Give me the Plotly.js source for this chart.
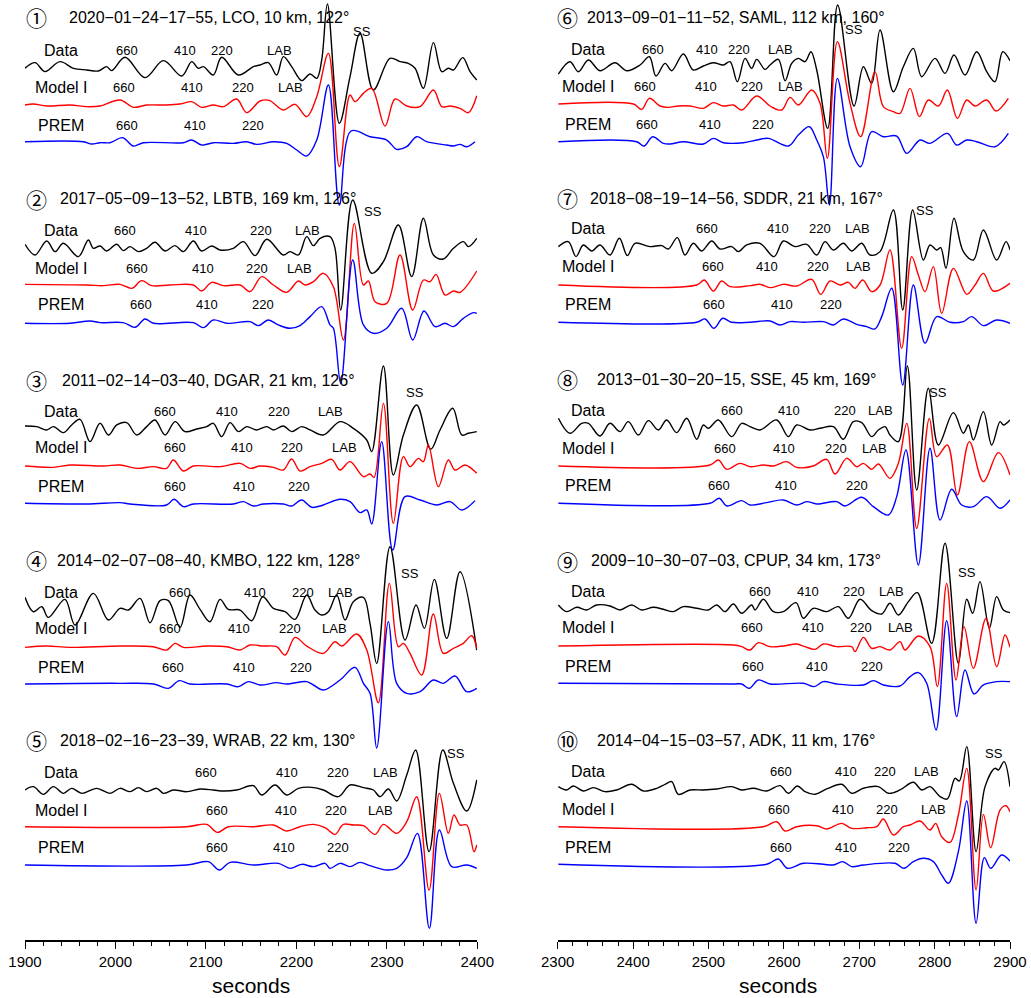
<!DOCTYPE html>
<html><head><meta charset="utf-8">
<script src="https://cdn.plot.ly/plotly-3.0.1.min.js"></script>
<style>html,body{margin:0;padding:0;background:#fff}</style>
</head><body><div id="chart" style="width:1031px;height:998px"></div>
<script>
// ---- waveform samples: [time (s), amplitude (arb. units)] ----
const p1Data=[[1900,0],[1911.1,17],[1922.1,-10],[1938.7,20],[1953.5,0],[1968.2,-5],[1981.1,-8],[1990.3,5],[1995.8,-7],[2010.6,33],[2032.7,-28],[2053,23],[2073.2,-23],[2084.3,20],[2091.6,0],[2097.2,5],[2108.2,-20],[2117.4,33],[2135.9,-20],[2152.5,5],[2159.8,10],[2169,17],[2178.2,-20],[2185.6,35],[2194.8,5],[2205.9,-37],[2215.1,-17],[2222.5,-30],[2228,25],[2234.3,193],[2247.5,-165],[2259.3,-25],[2270.4,105],[2285.1,-65],[2303.5,30],[2314.6,20],[2323.8,15],[2331.2,0],[2340.4,-60],[2351.5,77],[2360.7,-10],[2368,0],[2373.6,-5],[2383.9,32],[2392,-10],[2399.4,-35]];
const p1Model=[[1900,0],[1909.2,3],[1924,-3],[1949.8,0],[1968.2,-5],[1983,-3],[2005.1,15],[2019.8,-7],[2034.5,0],[2056.6,0],[2071.4,3],[2084.3,10],[2095.3,-7],[2108.2,0],[2119.3,-5],[2134,18],[2145.1,-23],[2159.8,12],[2170,14],[2185.6,-15],[2198.5,2],[2211.4,-35],[2222.5,25],[2235.4,155],[2247.5,-185],[2259.3,30],[2264.8,10],[2274.1,35],[2283.3,50],[2298,-63],[2309.1,18],[2322,-3],[2336.7,-5],[2351.5,45],[2360.7,-5],[2369.9,-3],[2380.9,-10],[2390.1,-23],[2399.4,28]];
const p1Prem=[[1900,0],[1964.5,0],[1973.7,-7],[1983,-3],[1994,-3],[2008,12],[2019.8,-13],[2030.8,-3],[2075.1,-3],[2084.3,5],[2095.3,-10],[2108.2,-3],[2130.3,-5],[2145.1,0],[2156.1,-8],[2174.6,0],[2189.3,-5],[2200.4,-25],[2211.4,-43],[2222.5,5],[2235.4,170],[2247.5,-190],[2260.4,32],[2281.4,15],[2299.9,5],[2310.9,-23],[2322,-15],[2333,15],[2344.1,0],[2366.2,-10],[2373.6,-13],[2380.9,-8],[2388.3,-15],[2397.5,0]];

const p2Data=[[1900,12],[1911.1,-20],[1924,22],[1933.2,-10],[1942.4,15],[1959,-25],[1970,25],[1975.6,0],[1983,7],[1990.3,-8],[2001.4,12],[2008.7,-7],[2016.1,5],[2025.3,-10],[2034.5,0],[2043.7,18],[2054.8,-8],[2065.9,8],[2075.1,-10],[2086.1,22],[2095.3,-8],[2106.4,7],[2115.6,-5],[2130.3,0],[2141.4,20],[2154.3,-22],[2167.2,27],[2185.6,-20],[2193,-10],[2202.2,-20],[2211.4,35],[2218.8,8],[2226.2,30],[2237.2,35],[2242.7,0],[2249,-185],[2262.3,145],[2283.3,-75],[2296.2,-40],[2312.8,70],[2327.5,-85],[2340.4,90],[2351.5,-20],[2362.5,-32],[2373.6,0],[2384.6,20],[2390.1,5],[2399.4,30]];
const p2Model=[[1900,2],[1968.2,0],[1986.6,-2],[2005.1,2],[2018,-10],[2029,13],[2040.1,-2],[2060.3,0],[2086.1,0],[2095.3,-18],[2106.4,8],[2119.3,-2],[2137.7,0],[2148.8,-20],[2161.7,25],[2174.6,0],[2189.3,-22],[2202.2,12],[2209.6,0],[2218.8,10],[2229.8,35],[2240.9,-5],[2252,-165],[2264.1,185],[2274.1,0],[2279.6,12],[2287,-50],[2299.9,-55],[2314.6,90],[2328.6,-75],[2340.4,15],[2347.8,10],[2354.4,32],[2364.3,-30],[2373.6,-18],[2380.9,-22],[2399.4,42]];
const p2Prem=[[1900,0],[1949.8,0],[1971.9,7],[1983,2],[2008.7,2],[2021.6,-12],[2032.7,13],[2041.9,0],[2086.1,2],[2097.2,-13],[2108.2,10],[2123,0],[2148.8,5],[2158,-7],[2169,10],[2180.1,-5],[2193,-15],[2204,-7],[2215.1,20],[2228,50],[2237.2,-5],[2240.9,-15],[2249,-180],[2262.3,190],[2274.1,-5],[2285.1,-30],[2299.9,-15],[2316.4,45],[2328.6,-50],[2341.1,37],[2353.3,-10],[2364.3,0],[2373.6,-10],[2384.6,15],[2395.7,32],[2399.4,30]];

const p3Data=[[1900,7],[1912.9,5],[1924,-5],[1931.4,5],[1942.4,-13],[1951.6,10],[1960.8,27],[1971.9,-40],[1982.9,15],[1992.2,-20],[2001.4,10],[2012.4,17],[2023.5,-20],[2034.5,5],[2043.7,25],[2054.8,-20],[2065.9,20],[2076.9,-10],[2089.8,-2],[2100.9,5],[2108.2,15],[2117.4,-25],[2126.7,17],[2135.9,-10],[2145.1,5],[2156.1,-5],[2167.2,5],[2174.6,-5],[2185.6,7],[2194.8,-10],[2205.9,5],[2215.1,-5],[2229.8,-20],[2248.3,20],[2263,0],[2277.8,-35],[2283.3,-70],[2296.2,187],[2307.2,-140],[2318.3,-20],[2333,70],[2348.5,-63],[2358.8,-5],[2372.8,60],[2382.8,-20],[2390.1,-15],[2399.4,-10]];
const p3Model=[[1900,0],[1931.4,-4],[1949.8,3],[1986.6,0],[2005.1,3],[2023.5,-7],[2041.9,-2],[2056.6,-7],[2064,18],[2075.1,-15],[2086.1,0],[2115.6,-2],[2137.7,8],[2148.8,-7],[2159.8,0],[2174.6,-4],[2185.6,-12],[2194.8,21],[2204,-15],[2215.1,-2],[2228,8],[2239,20],[2248.3,-12],[2259.3,13],[2274.1,-32],[2281.4,-24],[2285.9,-34],[2296.2,188],[2307.2,-172],[2318.3,28],[2325.6,-2],[2334.9,23],[2340.4,13],[2345.9,63],[2357,-62],[2368,18],[2375.4,-12],[2386.4,3],[2399.4,-22]];
const p3Prem=[[1900,0],[1968.2,-2],[2005.1,2],[2016.1,-2],[2056.6,-5],[2064.7,12],[2075.1,-10],[2086.1,-2],[2130.3,-2],[2141.4,5],[2152.5,-8],[2163.5,-2],[2185.6,-2],[2194.8,-8],[2205.9,10],[2216.9,-12],[2229.8,-5],[2248.3,12],[2259.3,5],[2270.4,-28],[2277.8,-20],[2283.3,-62],[2294.3,185],[2306.5,-140],[2320.1,20],[2336.7,10],[2355.1,-5],[2369.9,5],[2382.8,-20],[2397.5,8]];

const p4Data=[[1900,28],[1909.2,-15],[1918.5,0],[1925.8,-32],[1944.2,22],[1955.3,-55],[1975.6,40],[1992.2,-40],[2005.1,-5],[2014.3,-10],[2027.2,25],[2038.2,-48],[2049.3,18],[2058.5,18],[2071.4,-62],[2082.4,35],[2093.5,-8],[2104.5,-45],[2115.6,22],[2124.8,-8],[2137.7,-10],[2150.6,-42],[2162.8,30],[2174.6,-5],[2187.5,-15],[2198.5,-38],[2211.4,35],[2220.6,-10],[2228,-25],[2235.4,-15],[2244.6,35],[2253.8,-40],[2263,15],[2274.1,28],[2281.4,-50],[2288.8,-170],[2303.5,180],[2320.1,-100],[2332.3,5],[2341.5,-65],[2352.5,82],[2366.2,-95],[2380.9,105],[2399.4,-130]];
const p4Model=[[1900,-2],[1924,2],[1949.8,-2],[2005.1,2],[2041.9,0],[2056.6,-10],[2065.9,10],[2075.1,-2],[2100.9,2],[2123,0],[2137.7,-10],[2148.8,5],[2163.5,2],[2178.2,0],[2187.5,-25],[2198.5,28],[2211.4,2],[2229.8,-20],[2242.7,15],[2250.1,2],[2266.7,38],[2277.8,-10],[2290.6,-168],[2302.8,190],[2312.8,0],[2318.3,10],[2325.6,-20],[2338.5,-85],[2351.4,98],[2362.5,-20],[2373.6,-5],[2384.6,10],[2393.8,33],[2399.4,-5]];
const p4Prem=[[1900,0],[2005.1,2],[2041.9,0],[2058.5,-13],[2070.6,10],[2082.4,0],[2123,0],[2135.9,-8],[2146.9,7],[2159.8,-3],[2178.2,4],[2189.3,0],[2211.4,7],[2218.8,-3],[2229.8,-18],[2248.3,12],[2264.8,50],[2274.1,2],[2281.4,-28],[2288.8,-192],[2301.7,187],[2310.9,2],[2322,-28],[2336.7,-23],[2351.4,12],[2362.5,2],[2375.4,24],[2388.3,-23],[2399.4,-13]];

const p5Data=[[1900,0],[1909.2,10],[1920.3,-13],[1931.4,10],[1942.4,-10],[1951.6,5],[1962.7,-10],[1979.3,5],[1994,-10],[2005.1,5],[2016.1,-5],[2025.3,7],[2034.5,-5],[2045.6,5],[2053,-10],[2064,0],[2078.8,-5],[2093.5,3],[2108.2,0],[2119.3,-3],[2134,0],[2152.5,13],[2161.7,-15],[2176.4,15],[2189.3,-15],[2202.2,5],[2217,8],[2229.8,0],[2246.4,-20],[2259.3,15],[2274.1,7],[2285.1,0],[2292.5,-20],[2301.7,3],[2310.9,-33],[2322,45],[2331.9,120],[2346.7,-185],[2361.8,120],[2373.6,20],[2388.3,-63],[2399.4,30]];
const p5Model=[[1900,0],[2078.8,0],[2100.9,7],[2112.7,-17],[2124.8,0],[2152.5,0],[2174.6,5],[2189.3,-13],[2204,0],[2218.8,7],[2231.7,-3],[2242.7,-23],[2251.9,7],[2263,5],[2274.1,3],[2287,-23],[2296.2,7],[2310.9,-20],[2322,15],[2333,90],[2346.7,-190],[2358.1,100],[2368,-20],[2374.3,35],[2380.9,5],[2388.3,5],[2396.4,-75],[2399.4,-55]];
const p5Prem=[[1900,0],[2078.8,0],[2102.7,10],[2114.9,-15],[2126.7,8],[2152.5,0],[2180.1,5],[2193,-10],[2205.9,2],[2218.8,-5],[2231.7,5],[2237.2,-10],[2248.3,5],[2259.3,-5],[2270.4,8],[2281.4,-2],[2299.9,-15],[2310.9,-10],[2322,22],[2333.8,95],[2347,-190],[2358.1,105],[2371.7,-5],[2388.3,0],[2399.4,-10]];

const p6Data=[[2300.9,-22],[2316.3,15],[2327.4,-15],[2340.7,20],[2356.1,-12],[2376,12],[2391.5,-12],[2409.2,5],[2421.6,30],[2430.4,-28],[2442.4,10],[2451.2,-12],[2466.7,38],[2479.9,-10],[2493.2,2],[2506.5,12],[2519.7,5],[2528.6,15],[2538.3,-45],[2548.5,25],[2557.3,-5],[2564,22],[2575,-8],[2581.7,5],[2592.7,22],[2601.6,-42],[2610.4,10],[2619.2,25],[2628.1,15],[2636,45],[2643.6,-10],[2658.2,-185],[2671.4,185],[2693.1,-118],[2705.5,0],[2716.5,-50],[2727.6,110],[2745.3,-75],[2758.5,0],[2771.8,55],[2782.8,-30],[2800.5,25],[2813.8,-20],[2825.7,35],[2840.3,-25],[2855.8,45],[2869.1,-15],[2880.1,-45],[2890.3,45],[2900,18]];
const p6Model=[[2300.9,0],[2400.4,0],[2411.4,-16],[2421.6,17],[2435.7,-6],[2446.8,-10],[2460,-6],[2475.5,-6],[2493.2,-13],[2506.5,4],[2519.7,-6],[2533,-3],[2544.1,-18],[2564,24],[2581.7,-6],[2597.1,-18],[2608.2,20],[2619.2,-3],[2636.9,42],[2648,2],[2657.7,-163],[2671,187],[2687.8,2],[2701.9,-98],[2720.9,97],[2732,-8],[2745.3,-23],[2754.1,-28],[2767.4,47],[2779.8,-38],[2791.7,12],[2805,-6],[2816.9,42],[2830.2,-43],[2842.6,12],[2853.6,-6],[2869.1,12],[2881.5,-21],[2897.8,17]];
const p6Prem=[[2300.9,0],[2404.8,0],[2414.5,-13],[2426,15],[2440.1,-5],[2449,-7],[2466.7,0],[2493.2,-7],[2506.5,10],[2519.7,-3],[2546.3,-3],[2564,5],[2579.4,10],[2606,-13],[2619.2,20],[2633.8,45],[2643.6,5],[2652.4,-45],[2660.4,-190],[2671,190],[2687.8,-15],[2701.9,-75],[2716.5,30],[2732,15],[2749.7,17],[2763,-35],[2780.7,5],[2793.9,-5],[2816.9,25],[2829.3,-10],[2842.6,5],[2855.8,0],[2880.1,-15],[2897.8,25]];

const p7Data=[[2300.9,5],[2314.1,20],[2324.3,-25],[2334,10],[2345.1,-8],[2356.1,10],[2369.4,-20],[2381.8,30],[2392.4,-22],[2402.6,15],[2422.5,5],[2437.9,8],[2446.8,-2],[2458.7,32],[2468.9,-20],[2479.9,15],[2491,-8],[2504.3,22],[2515.3,-2],[2530.8,5],[2539.6,-10],[2550.7,10],[2568.4,15],[2587,-25],[2599.3,22],[2614.8,5],[2630.3,12],[2643.6,-20],[2654.6,20],[2665.7,-5],[2678.9,15],[2690,-8],[2703.3,15],[2714.3,-20],[2727.6,-10],[2745.3,115],[2757.7,-185],[2770.9,115],[2785.1,-35],[2793.9,10],[2802.8,-5],[2808,2],[2815.1,-60],[2825.7,90],[2838.1,-10],[2851.4,-35],[2864.7,55],[2882.3,-35],[2894.7,20],[2900,-5]];
const p7Model=[[2300.9,0],[2484.4,0],[2494.5,15],[2506.5,-18],[2517.5,12],[2528.6,-5],[2555.1,-2],[2568.4,2],[2581.7,-8],[2599.3,2],[2617,-3],[2636.9,17],[2648.9,-28],[2661.3,12],[2674.5,0],[2685.6,8],[2694.4,-10],[2704.6,15],[2716.5,-20],[2727.6,0],[2740.8,105],[2756.3,-190],[2769.6,85],[2778.4,30],[2787.3,-20],[2798.3,55],[2809.4,-85],[2824.9,50],[2842.6,-28],[2853.6,0],[2864.7,35],[2878,-18],[2900,5]];
const p7Prem=[[2300.9,0],[2484.4,0],[2495.4,10],[2507.4,-18],[2518.9,12],[2530.8,0],[2555.1,0],[2581.7,4],[2594.9,-8],[2608.2,2],[2625.9,0],[2652.4,2],[2665.7,-8],[2678.9,10],[2696.6,-6],[2709.9,-13],[2720.9,-20],[2729.8,17],[2743.1,102],[2757.7,-188],[2771.8,112],[2787.3,-63],[2802.8,17],[2820.4,0],[2838.1,2],[2849.2,17],[2864.7,-10],[2882.3,7],[2900,-3]];

const p8Data=[[2300.9,30],[2316.3,-15],[2331.8,15],[2340.7,15],[2356.1,-23],[2369.4,15],[2382.7,-10],[2393.7,20],[2407,-20],[2420.3,23],[2433.5,-5],[2444.6,25],[2457.8,-13],[2471.1,30],[2484.4,-33],[2493.2,10],[2499.8,0],[2513.1,25],[2530.8,-25],[2544.1,15],[2555.1,5],[2568.4,-5],[2590.5,25],[2606,-25],[2617,10],[2634.7,-5],[2648,0],[2665.7,5],[2678.9,-33],[2692.2,20],[2703.3,17],[2716.5,-25],[2725.4,-5],[2734.2,5],[2740.8,-20],[2751.9,-40],[2763.8,187],[2776.2,-185],[2791.7,120],[2805,-50],[2824.9,47],[2838.1,-15],[2844.8,10],[2851.4,-35],[2864.7,50],[2875.7,-50],[2886.8,20],[2891.2,10],[2900,25]];
const p8Model=[[2300.9,0],[2502.1,3],[2513.1,18],[2524.2,-10],[2541.9,8],[2555.1,-2],[2572.8,3],[2586.1,0],[2603.8,13],[2617,-4],[2639.1,0],[2656.8,20],[2667.9,-24],[2683.4,23],[2696.6,-2],[2705.5,8],[2716.5,-10],[2725.4,6],[2740.8,-37],[2751.9,8],[2763.1,128],[2776.2,-187],[2793,143],[2802.8,28],[2816.9,63],[2830.2,-87],[2846.1,73],[2864.7,-47],[2884.6,40],[2900,-27]];
const p8Prem=[[2300.9,0],[2502.1,0],[2514.4,15],[2524.2,-8],[2544.1,8],[2555.1,-5],[2577.2,2],[2599.3,10],[2617,-5],[2630.3,5],[2643.6,-2],[2670.1,5],[2681.1,-8],[2703.3,18],[2718.7,-10],[2738.6,-35],[2749.7,20],[2762,160],[2778.4,-185],[2793.9,165],[2807.2,-50],[2822.7,42],[2835.9,-5],[2851.4,-10],[2869.1,20],[2886.8,-15],[2900,10]];

const p9Data=[[2300.9,10],[2311.9,-10],[2325.2,3],[2338.4,-5],[2351.7,10],[2369.4,7],[2382.7,-5],[2398.1,10],[2411.4,-5],[2426.9,3],[2440.1,-3],[2453.4,-10],[2466.7,5],[2484.4,0],[2499.8,-5],[2510.9,10],[2521.9,-10],[2533,13],[2544.1,-15],[2557.3,10],[2561.8,-5],[2572.8,27],[2586.1,-10],[2599.3,-10],[2616.1,17],[2625.9,-30],[2639.1,0],[2656.8,-10],[2672.3,5],[2685.6,-30],[2701,27],[2716.5,-7],[2729.8,-17],[2740.8,15],[2751.9,-20],[2765.2,20],[2777.1,47],[2796.1,-105],[2813.8,195],[2831.5,-165],[2842.6,27],[2850.5,-15],[2860.2,80],[2872.6,-60],[2882.3,35],[2891.2,-5],[2900,-13]];
const p9Model=[[2300.9,0],[2533,3],[2544.1,-2],[2555.1,-12],[2566.2,10],[2581.7,-2],[2599.3,0],[2617,6],[2628.1,-2],[2641.4,-10],[2652.4,6],[2670.1,-2],[2690,-2],[2694.4,-17],[2705.5,26],[2716.5,-7],[2727.6,-2],[2740.8,-12],[2754.1,13],[2760.7,-12],[2778.4,30],[2793.9,-2],[2803.6,-122],[2816,188],[2828.4,-102],[2839,58],[2851.4,-67],[2868.2,83],[2882.3,-62],[2893.4,33],[2900,-4]];
const p9Prem=[[2300.9,0],[2533,-2],[2544.1,-2],[2554.2,-15],[2566.2,10],[2581.7,-2],[2625.9,0],[2640,-10],[2652.4,5],[2670.1,-2],[2705.5,-5],[2718.7,8],[2732,-5],[2754.1,-8],[2767.4,20],[2778.4,32],[2789.5,0],[2801.9,-140],[2816,188],[2829.3,-100],[2840.3,40],[2852.3,-32],[2864.7,-5],[2882.3,5],[2900,5]];

const p10Data=[[2300.9,5],[2311.9,-5],[2320.8,7],[2334,-8],[2347.3,2],[2362.8,-10],[2378.2,-5],[2398.1,12],[2413.6,-8],[2431.3,0],[2442.4,12],[2451.2,20],[2460,-18],[2475.5,-5],[2493.2,-5],[2510.9,-2],[2530.8,5],[2544.1,-5],[2559.5,0],[2577.2,-8],[2594.9,8],[2606,-15],[2617.9,7],[2628.1,-10],[2641.4,-18],[2656.8,-2],[2676.7,12],[2690,-15],[2705.5,0],[2725.4,5],[2738.6,-15],[2754.1,-5],[2771.8,18],[2782.8,-5],[2793.9,5],[2807.2,-25],[2816.9,-32],[2827.1,30],[2832.8,22],[2842.6,125],[2855,-190],[2866.9,5],[2880.1,60],[2884.6,55],[2892.1,80],[2900,5]];
const p10Model=[[2300.9,0],[2572.8,0],[2590.5,15],[2601.6,-13],[2617,0],[2643.6,3],[2656.8,-7],[2676.7,10],[2690,-5],[2709.9,-3],[2723.2,0],[2732,23],[2745.3,-25],[2758.5,0],[2767.4,5],[2780.7,17],[2793.9,-10],[2801.4,10],[2809.4,-30],[2820.4,-47],[2831.5,35],[2842.6,175],[2855,-190],[2864.7,37],[2874.4,-63],[2886.8,50],[2894.7,63],[2900,45]];
const p10Prem=[[2300.9,0],[2577.2,0],[2592.7,16],[2604.6,-12],[2625.9,3],[2652.4,0],[2665.7,-2],[2678.1,8],[2690,-7],[2705.5,-2],[2747.5,3],[2759.4,-12],[2771.8,8],[2785.1,18],[2798.3,8],[2809.4,-32],[2818.2,-57],[2831.5,38],[2842.6,190],[2855,-177],[2866,20],[2874.4,-12],[2888.9,28],[2900,10]];

// ---- titles and phase labels ----
const circled=['\u2460','\u2461','\u2462','\u2463','\u2464','\u2465','\u2466','\u2467','\u2468','\u2469'];
const titles=[
 '2020\u221201\u221224\u221217\u221255, LCO, 10 km, 122\u00b0',
 '2017\u221205\u221209\u221213\u221252, LBTB, 169 km, 126\u00b0',
 '2011\u221202\u221214\u221203\u221240, DGAR, 21 km, 126\u00b0',
 '2014\u221202\u221207\u221208\u221240, KMBO, 122 km, 128\u00b0',
 '2018\u221202\u221216\u221223\u221239, WRAB, 22 km, 130\u00b0',
 '2013\u221209\u221201\u221211\u221252, SAML, 112 km, 160\u00b0',
 '2018\u221208\u221219\u221214\u221256, SDDR, 21 km, 167\u00b0',
 '2013\u221201\u221230\u221220\u221215, SSE, 45 km, 169\u00b0',
 '2009\u221210\u221230\u221207\u221203, CPUP, 34 km, 173\u00b0',
 '2014\u221204\u221215\u221203\u221257, ADK, 11 km, 176\u00b0'];
const seriesNames=['Data','Model I','PREM'];
const phaseNames=['660','410','220','LAB'];
const dataPhaseT=[[2012.4,2076.9,2117.4,2181.2],[2010.6,2089.1,2160.6,2212.1],[2054.8,2123.7,2181.2,2237.2],[2071.4,2154.3,2207.0,2248.3],[2099.8,2189.3,2246.4,2298.0],
 [2426.0,2497.6,2540.5,2595.8],[2497.6,2591.8,2648.0,2697.5],[2530.8,2607.3,2681.1,2727.6],[2568.4,2631.6,2693.1,2743.1],[2595.8,2682.0,2734.2,2788.6]];
const modelPhaseT=[[2009.5,2084.3,2141.4,2193.0],[2024.2,2096.4,2156.9,2203.3],[2065.9,2139.6,2194.8,2252.7],[2060.3,2137.0,2193.0,2241.6],[2111.9,2188.2,2243.5,2292.5],
 [2415.8,2496.3,2558.2,2608.2],[2505.6,2577.2,2645.8,2698.8],[2522.0,2600.7,2669.2,2720.9],[2558.2,2638.3,2701.9,2755.0],[2593.6,2678.1,2737.3,2798.3]];
const premPhaseT=[[2013.2,2088.0,2152.5],[2027.9,2100.9,2163.5],[2065.9,2142.5,2203.3],[2063.3,2142.1,2204.8],[2112.7,2186.7,2246.4],
 [2418.9,2502.1,2572.8],[2507.8,2598.0,2662.6],[2514.4,2602.9,2697.5],[2558.7,2643.6,2716.5],[2595.8,2682.0,2753.2]];
const ssT=[2272.2,2285.1,2331.2,2325.6,2376.5,2693.1,2787.3,2805.0,2842.6,2878.8];
const xTicks0=[1900,2000,2100,2200,2300,2400];
const xTicks1=[2300,2400,2500,2600,2700,2800,2900];

// ---- layout (pixel positions) ----
const W=1031,H=998,PH=940,AMP=1/3;
const waves=[[p1Data,p1Model,p1Prem],[p2Data,p2Model,p2Prem],[p3Data,p3Model,p3Prem],[p4Data,p4Model,p4Prem],[p5Data,p5Model,p5Prem],
 [p6Data,p6Model,p6Prem],[p7Data,p7Model,p7Prem],[p8Data,p8Model,p8Prem],[p9Data,p9Model,p9Prem],[p10Data,p10Model,p10Prem]];
const baseY=[[68.3,105,141.7],[248.3,285,323.3],[428.3,466,503.3],[606.7,646.7,684],[790,826.7,865],
 [66.7,104,141.7],[248.3,285,322.3],[428.3,466,503.3],[608.3,646,683.3],[788.3,826.7,864.3]];
const rowY=[[50,87,125],[230,268,304],[411,447,486],[592,628,667],[772,810,847],
 [49,86,124],[228,266,304],[410,448,485],[591,627,666],[771,809,847]];
const titleY=[17,198.5,380,560,740,17.3,198.3,379,560.7,740];
const titleX=[67,58,60,55,58,585,588,595,589,595];
const ssY=[31,211,392,573,753,29,210,392,572,753];
const colors=['#000000','#ff0000','#0000ff'];
const FONT='Liberation Sans, Arial, Helvetica, sans-serif';

const traces=[];const ann=[];
waves.forEach((w,i)=>{
  const xa=i<5?'x':'x2';
  w.forEach((pts,k)=>{
    traces.push({type:'scatter',mode:'lines',xaxis:xa,yaxis:'y',
      x:pts.map(p=>p[0]),y:pts.map(p=>-baseY[i][k]+p[1]*AMP),
      line:{color:colors[k],width:1.4,shape:'spline',smoothing:1},hoverinfo:'skip'});
  });
  const lx=(i<5?61:588)/W, cx=(i<5?36.5:567.5)/W;
  ann.push({xref:'paper',yref:'y',x:cx,y:-titleY[i],text:circled[i],showarrow:false,xanchor:'center',yanchor:'middle',font:{family:'Noto Sans CJK JP, DejaVu Sans',size:21,color:'#000'}});
  ann.push({xref:'paper',yref:'y',x:titleX[i]/W,y:-titleY[i],text:titles[i],showarrow:false,xanchor:'left',yanchor:'middle',font:{family:FONT,size:16,color:'#000'}});
  seriesNames.forEach((s,k)=>ann.push({xref:'paper',yref:'y',x:lx,y:-rowY[i][k],text:s,showarrow:false,xanchor:'center',yanchor:'middle',font:{family:FONT,size:16,color:'#000'}}));
  const rows=[dataPhaseT[i],modelPhaseT[i],premPhaseT[i]];
  rows.forEach((r,k)=>r.forEach((t,j)=>ann.push({xref:xa,yref:'y',x:t,y:-rowY[i][k],text:phaseNames[j],showarrow:false,xanchor:'center',yanchor:'middle',font:{family:FONT,size:13,color:'#000'}})));
  ann.push({xref:xa,yref:'y',x:ssT[i],y:-ssY[i],text:'SS',showarrow:false,xanchor:'center',yanchor:'middle',font:{family:FONT,size:13,color:'#000'}});
});
const secY=1-985/PH;
ann.push({xref:'paper',yref:'paper',x:251/W,y:secY,text:'seconds',showarrow:false,xanchor:'center',yanchor:'middle',font:{family:FONT,size:21,color:'#000'}});
ann.push({xref:'paper',yref:'paper',x:778/W,y:secY,text:'seconds',showarrow:false,xanchor:'center',yanchor:'middle',font:{family:FONT,size:21,color:'#000'}});

const axBase={showline:true,linecolor:'#000',linewidth:1.5,ticks:'outside',ticklen:7,tickwidth:1,tickcolor:'#000',
  showgrid:false,zeroline:false,tickfont:{family:FONT,size:15,color:'#000'},anchor:'y',fixedrange:true,
  minor:{dtick:20,ticks:'outside',ticklen:4,tickcolor:'#000',tickwidth:1,showgrid:false}};
const layout={width:W,height:H,margin:{l:0,r:0,t:0,b:H-PH},paper_bgcolor:'#fff',plot_bgcolor:'#fff',showlegend:false,
  font:{family:FONT,color:'#000'},
  xaxis:Object.assign({},axBase,{domain:[25/W,477.3/W],range:[1900,2400],tickmode:'array',tickvals:xTicks0,ticktext:xTicks0.map(String)}),
  xaxis2:Object.assign({},axBase,{domain:[557.7/W,1010/W],range:[2300,2900],tickmode:'array',tickvals:xTicks1,ticktext:xTicks1.map(String)}),
  yaxis:{domain:[0,1],range:[-PH,0],visible:false,fixedrange:true},
  annotations:ann};
Plotly.newPlot('chart',traces,layout,{displayModeBar:false,staticPlot:true});
</script></body></html>
